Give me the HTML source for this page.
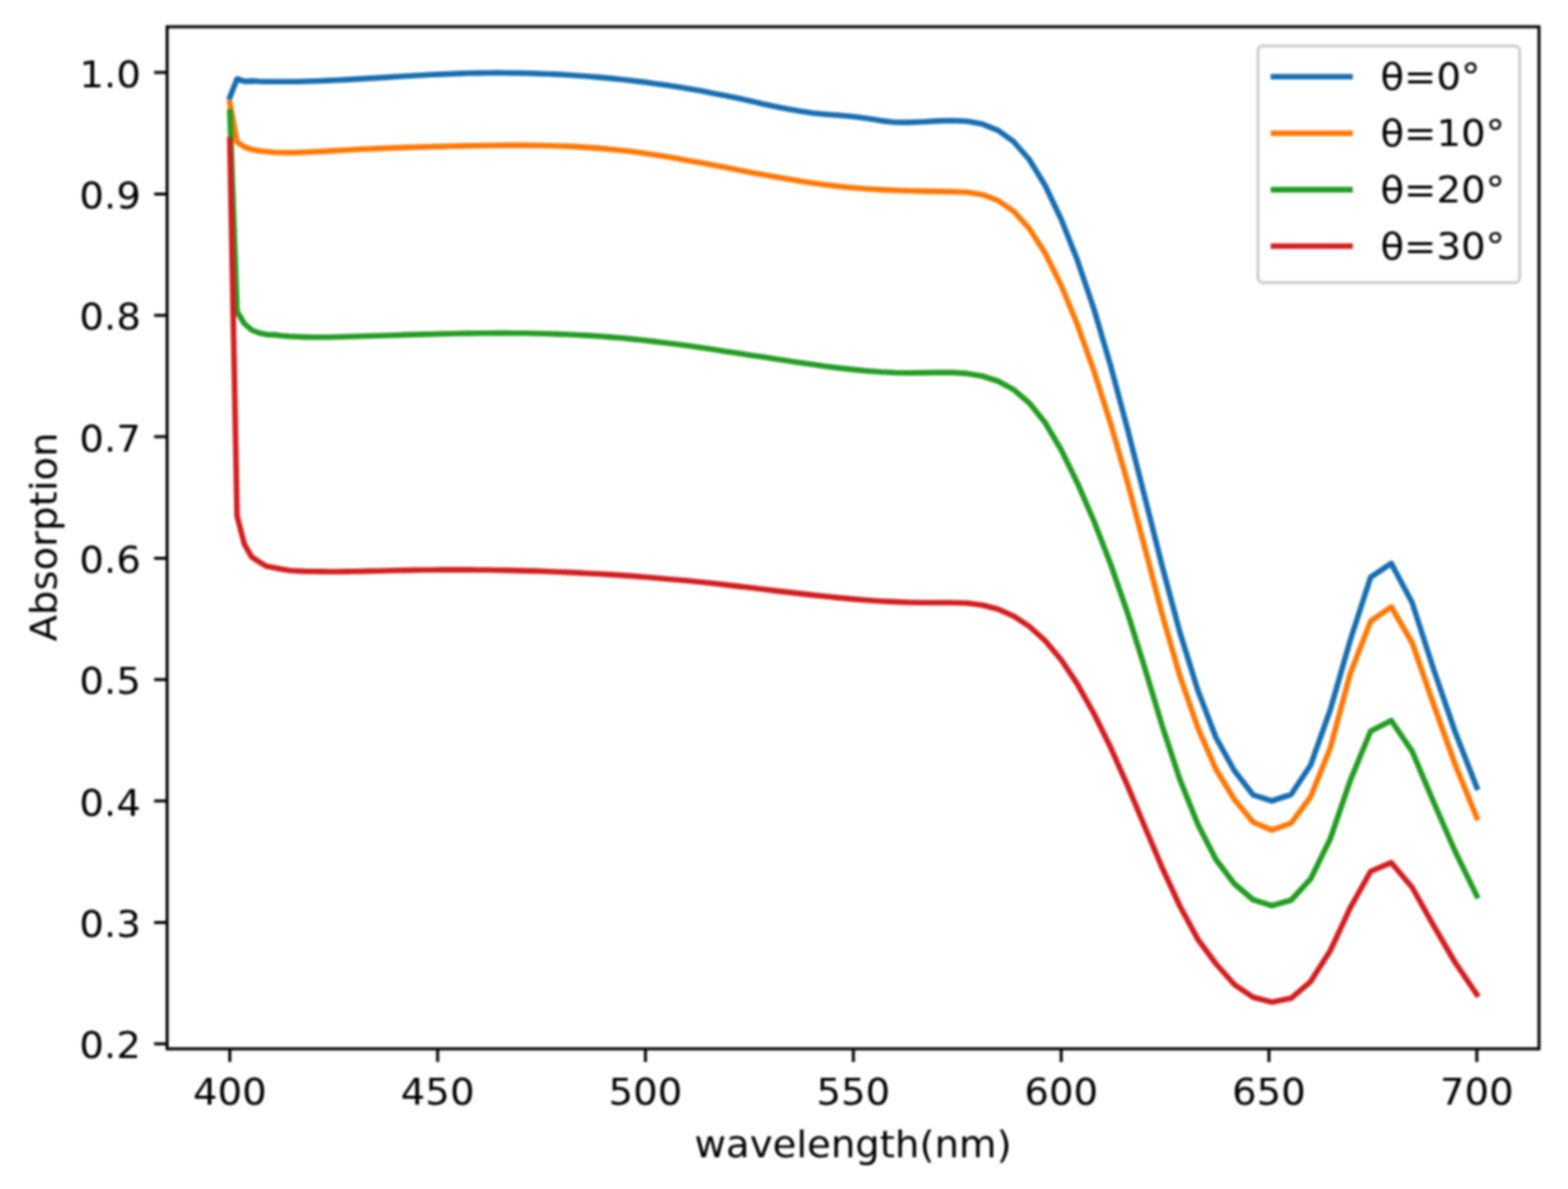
<!DOCTYPE html><html><head><meta charset="utf-8"><title>Absorption vs wavelength</title><style>html,body{margin:0;padding:0;background:#fff;}svg{display:block;filter:blur(0.8px);}text{font-family:"DejaVu Sans","Liberation Sans",sans-serif;fill:#000;}</style></head><body>
<svg width="1580" height="1198" viewBox="0 0 1580 1198">
<rect x="0" y="0" width="1580" height="1198" fill="#fff"/>
<defs><clipPath id="ax"><rect x="168.4" y="27.0" width="1382.3999999999999" height="1029.8"/></clipPath></defs>
<g clip-path="url(#ax)" fill="none" stroke-width="5.60" stroke-linejoin="round" stroke-linecap="square">
<polyline stroke="#176eb0" points="231.6,98.0 238.9,79.5 246.2,82.0 253.6,81.6 261.1,82.0 268.7,82.2 276.3,82.3 284.0,82.3 291.7,82.3 299.5,82.2 307.4,82.0 315.4,81.8 323.4,81.5 331.5,81.1 339.7,80.8 347.9,80.4 356.3,79.9 364.7,79.4 373.2,78.9 381.7,78.4 390.4,77.9 399.1,77.3 408.0,76.8 416.9,76.3 425.8,75.8 434.9,75.3 444.1,74.9 453.3,74.5 462.7,74.1 472.1,73.8 481.6,73.6 491.3,73.5 501.0,73.4 510.8,73.5 520.7,73.6 530.8,73.8 540.9,74.1 551.1,74.5 561.5,74.9 571.9,75.5 582.5,76.2 593.1,77.0 603.9,77.9 614.8,78.9 625.8,80.0 636.9,81.3 648.2,82.6 659.5,84.2 671.0,85.8 682.7,87.6 694.4,89.5 706.3,91.6 718.3,93.9 730.4,96.3 742.7,98.8 755.1,101.6 767.7,104.4 780.4,107.2 793.3,109.8 806.3,112.1 819.4,114.0 832.7,115.2 846.2,116.3 859.9,117.5 873.6,119.3 887.6,121.6 901.7,123.2 916.0,123.4 930.5,122.8 945.2,121.9 960.0,121.5 975.0,122.3 990.2,125.1 1005.6,131.3 1021.2,142.5 1037.0,160.5 1053.1,186.8 1069.3,221.0 1085.7,262.3 1102.3,311.4 1119.2,368.8 1136.3,432.7 1153.6,500.9 1171.1,570.5 1188.9,637.1 1207.0,695.5 1225.2,743.0 1243.8,776.5 1262.6,800.8 1281.6,807.0 1301.0,800.5 1320.6,771.0 1340.5,715.0 1360.6,645.0 1381.1,581.6 1401.9,567.6 1422.9,607.0 1444.3,673.5 1466.1,737.0 1488.1,793.4"/>
<polyline stroke="#ff7806" points="231.6,103.8 238.9,143.2 246.2,148.0 253.6,150.5 261.1,152.0 268.7,152.8 276.3,153.5 284.0,153.8 291.7,153.9 299.5,153.8 307.4,153.4 315.4,153.0 323.4,152.6 331.5,152.1 339.7,151.6 347.9,151.2 356.3,150.7 364.7,150.3 373.2,150.0 381.7,149.6 390.4,149.3 399.1,148.9 408.0,148.6 416.9,148.3 425.8,148.1 434.9,147.8 444.1,147.6 453.3,147.3 462.7,147.1 472.1,146.9 481.6,146.8 491.3,146.6 501.0,146.5 510.8,146.4 520.7,146.4 530.8,146.4 540.9,146.5 551.1,146.7 561.5,147.0 571.9,147.4 582.5,147.9 593.1,148.6 603.9,149.4 614.8,150.4 625.8,151.5 636.9,152.8 648.2,154.3 659.5,156.0 671.0,157.8 682.7,159.8 694.4,161.9 706.3,164.0 718.3,166.3 730.4,168.6 742.7,171.0 755.1,173.4 767.7,175.7 780.4,178.1 793.3,180.3 806.3,182.5 819.4,184.5 832.7,186.3 846.2,187.9 859.9,189.2 873.6,190.3 887.6,191.1 901.7,191.8 916.0,192.3 930.5,192.6 945.2,192.9 960.0,193.1 975.0,193.7 990.2,196.2 1005.6,202.0 1021.2,212.7 1037.0,230.0 1053.1,255.0 1069.3,287.5 1085.7,327.3 1102.3,373.9 1119.2,427.1 1136.3,486.6 1153.6,552.0 1171.1,619.2 1188.9,681.2 1207.0,733.3 1225.2,775.0 1243.8,805.5 1262.6,828.3 1281.6,836.3 1301.0,829.4 1320.6,803.0 1340.5,753.5 1360.6,678.5 1381.1,625.9 1401.9,611.5 1422.9,647.5 1444.3,709.0 1466.1,770.0 1488.1,823.9"/>
<polyline stroke="#239c23" points="231.6,112.6 238.9,314.0 246.2,326.0 253.6,332.5 261.1,335.5 268.7,337.1 276.3,337.4 284.0,338.3 291.7,338.9 299.5,339.3 307.4,339.6 315.4,339.8 323.4,339.8 331.5,339.7 339.7,339.5 347.9,339.3 356.3,339.0 364.7,338.8 373.2,338.5 381.7,338.2 390.4,338.0 399.1,337.7 408.0,337.4 416.9,337.1 425.8,336.9 434.9,336.7 444.1,336.4 453.3,336.2 462.7,336.0 472.1,335.9 481.6,335.8 491.3,335.7 501.0,335.6 510.8,335.6 520.7,335.7 530.8,335.8 540.9,336.0 551.1,336.2 561.5,336.6 571.9,337.0 582.5,337.5 593.1,338.1 603.9,338.8 614.8,339.6 625.8,340.5 636.9,341.6 648.2,342.8 659.5,344.1 671.0,345.5 682.7,347.0 694.4,348.6 706.3,350.3 718.3,352.1 730.4,353.9 742.7,355.8 755.1,357.7 767.7,359.6 780.4,361.6 793.3,363.5 806.3,365.4 819.4,367.3 832.7,369.2 846.2,370.9 859.9,372.4 873.6,373.7 887.6,374.8 901.7,375.5 916.0,375.7 930.5,375.6 945.2,375.3 960.0,375.4 975.0,376.4 990.2,379.0 1005.6,384.0 1021.2,392.4 1037.0,405.8 1053.1,425.8 1069.3,453.2 1085.7,486.7 1102.3,525.0 1119.2,568.5 1136.3,617.9 1153.6,673.2 1171.1,731.3 1188.9,785.4 1207.0,830.5 1225.2,866.0 1243.8,890.5 1262.6,906.5 1281.6,912.5 1301.0,907.0 1320.6,885.7 1340.5,845.0 1360.6,786.4 1381.1,736.8 1401.9,726.0 1422.9,756.8 1444.3,807.5 1466.1,857.5 1488.1,902.6"/>
<polyline stroke="#d31e20" points="231.6,140.8 238.9,520.0 246.2,548.1 253.6,561.1 261.1,566.1 268.7,570.6 276.3,572.0 284.0,573.6 291.7,574.7 299.5,575.2 307.4,575.6 315.4,575.8 323.4,575.9 331.5,576.0 339.7,576.0 347.9,575.9 356.3,575.8 364.7,575.6 373.2,575.4 381.7,575.2 390.4,575.0 399.1,574.8 408.0,574.6 416.9,574.4 425.8,574.3 434.9,574.2 444.1,574.1 453.3,574.1 462.7,574.1 472.1,574.1 481.6,574.2 491.3,574.3 501.0,574.5 510.8,574.6 520.7,574.9 530.8,575.1 540.9,575.4 551.1,575.8 561.5,576.2 571.9,576.6 582.5,577.1 593.1,577.7 603.9,578.3 614.8,578.9 625.8,579.6 636.9,580.4 648.2,581.3 659.5,582.2 671.0,583.2 682.7,584.2 694.4,585.3 706.3,586.5 718.3,587.8 730.4,589.1 742.7,590.6 755.1,592.0 767.7,593.5 780.4,595.1 793.3,596.6 806.3,598.1 819.4,599.6 832.7,601.0 846.2,602.4 859.9,603.6 873.6,604.7 887.6,605.7 901.7,606.4 916.0,607.0 930.5,607.3 945.2,607.3 960.0,607.3 975.0,607.8 990.2,609.7 1005.6,613.8 1021.2,620.7 1037.0,631.0 1053.1,645.5 1069.3,664.8 1085.7,689.4 1102.3,719.0 1119.2,753.3 1136.3,791.8 1153.6,833.0 1171.1,874.4 1188.9,913.0 1207.0,946.3 1225.2,971.0 1243.8,992.0 1262.6,1004.8 1281.6,1009.7 1301.0,1005.8 1320.6,989.1 1340.5,957.7 1360.6,914.6 1381.1,878.0 1401.9,869.2 1422.9,894.0 1444.3,932.2 1466.1,969.5 1488.1,1001.9"/>
</g>
<rect x="168.4" y="27.0" width="1382.4" height="1029.8" fill="none" stroke="#000" stroke-width="3.0" stroke-linejoin="miter"/>
<path d="M231.6 1056.8V1069.9M441.0 1056.8V1069.9M650.4 1056.8V1069.9M859.9 1056.8V1069.9M1069.3 1056.8V1069.9M1278.7 1056.8V1069.9M1488.1 1056.8V1069.9M155.3 1051.7H168.4M155.3 929.4H168.4M155.3 807.0H168.4M155.3 684.7H168.4M155.3 562.4H168.4M155.3 440.1H168.4M155.3 317.7H168.4M155.3 195.4H168.4M155.3 73.1H168.4" stroke="#000" stroke-width="3.0" fill="none"/>
<text transform="translate(231.6 1112.8) scale(1.03 1)" font-size="37.8" text-anchor="middle">400</text>
<text transform="translate(441.0 1112.8) scale(1.03 1)" font-size="37.8" text-anchor="middle">450</text>
<text transform="translate(650.4 1112.8) scale(1.03 1)" font-size="37.8" text-anchor="middle">500</text>
<text transform="translate(859.9 1112.8) scale(1.03 1)" font-size="37.8" text-anchor="middle">550</text>
<text transform="translate(1069.3 1112.8) scale(1.03 1)" font-size="37.8" text-anchor="middle">600</text>
<text transform="translate(1278.7 1112.8) scale(1.03 1)" font-size="37.8" text-anchor="middle">650</text>
<text transform="translate(1488.1 1112.8) scale(1.03 1)" font-size="37.8" text-anchor="middle">700</text>
<text transform="translate(142.0 1066.3) scale(1.03 1)" font-size="37.8" text-anchor="end">0.2</text>
<text transform="translate(142.0 944.0) scale(1.03 1)" font-size="37.8" text-anchor="end">0.3</text>
<text transform="translate(142.0 821.6) scale(1.03 1)" font-size="37.8" text-anchor="end">0.4</text>
<text transform="translate(142.0 699.3) scale(1.03 1)" font-size="37.8" text-anchor="end">0.5</text>
<text transform="translate(142.0 577.0) scale(1.03 1)" font-size="37.8" text-anchor="end">0.6</text>
<text transform="translate(142.0 454.7) scale(1.03 1)" font-size="37.8" text-anchor="end">0.7</text>
<text transform="translate(142.0 332.3) scale(1.03 1)" font-size="37.8" text-anchor="end">0.8</text>
<text transform="translate(142.0 210.0) scale(1.03 1)" font-size="37.8" text-anchor="end">0.9</text>
<text transform="translate(142.0 87.7) scale(1.03 1)" font-size="37.8" text-anchor="end">1.0</text>
<text transform="translate(859.6 1166) scale(1.03 1)" font-size="37.8" text-anchor="middle">wavelength(nm)</text>
<text transform="translate(57.2 541.0) rotate(-90) scale(1.03 1)" font-size="37.8" text-anchor="middle">Absorption</text>
<rect x="1267.6" y="46.2" width="263.7" height="238.5" rx="5" ry="5" fill="#fff" fill-opacity="0.8" stroke="#cccccc" stroke-width="3"/>
<line x1="1283.2" y1="77.3" x2="1360.3" y2="77.3" stroke="#176eb0" stroke-width="5.6" stroke-linecap="square"/>
<text transform="translate(1391 90.4) scale(1.03 1)" font-size="37.8">θ=0°</text>
<line x1="1283.2" y1="134.2" x2="1360.3" y2="134.2" stroke="#ff7806" stroke-width="5.6" stroke-linecap="square"/>
<text transform="translate(1391 147.3) scale(1.03 1)" font-size="37.8">θ=10°</text>
<line x1="1283.2" y1="191.1" x2="1360.3" y2="191.1" stroke="#239c23" stroke-width="5.6" stroke-linecap="square"/>
<text transform="translate(1391 204.2) scale(1.03 1)" font-size="37.8">θ=20°</text>
<line x1="1283.2" y1="248.0" x2="1360.3" y2="248.0" stroke="#d31e20" stroke-width="5.6" stroke-linecap="square"/>
<text transform="translate(1391 261.1) scale(1.03 1)" font-size="37.8">θ=30°</text>
</svg></body></html>
